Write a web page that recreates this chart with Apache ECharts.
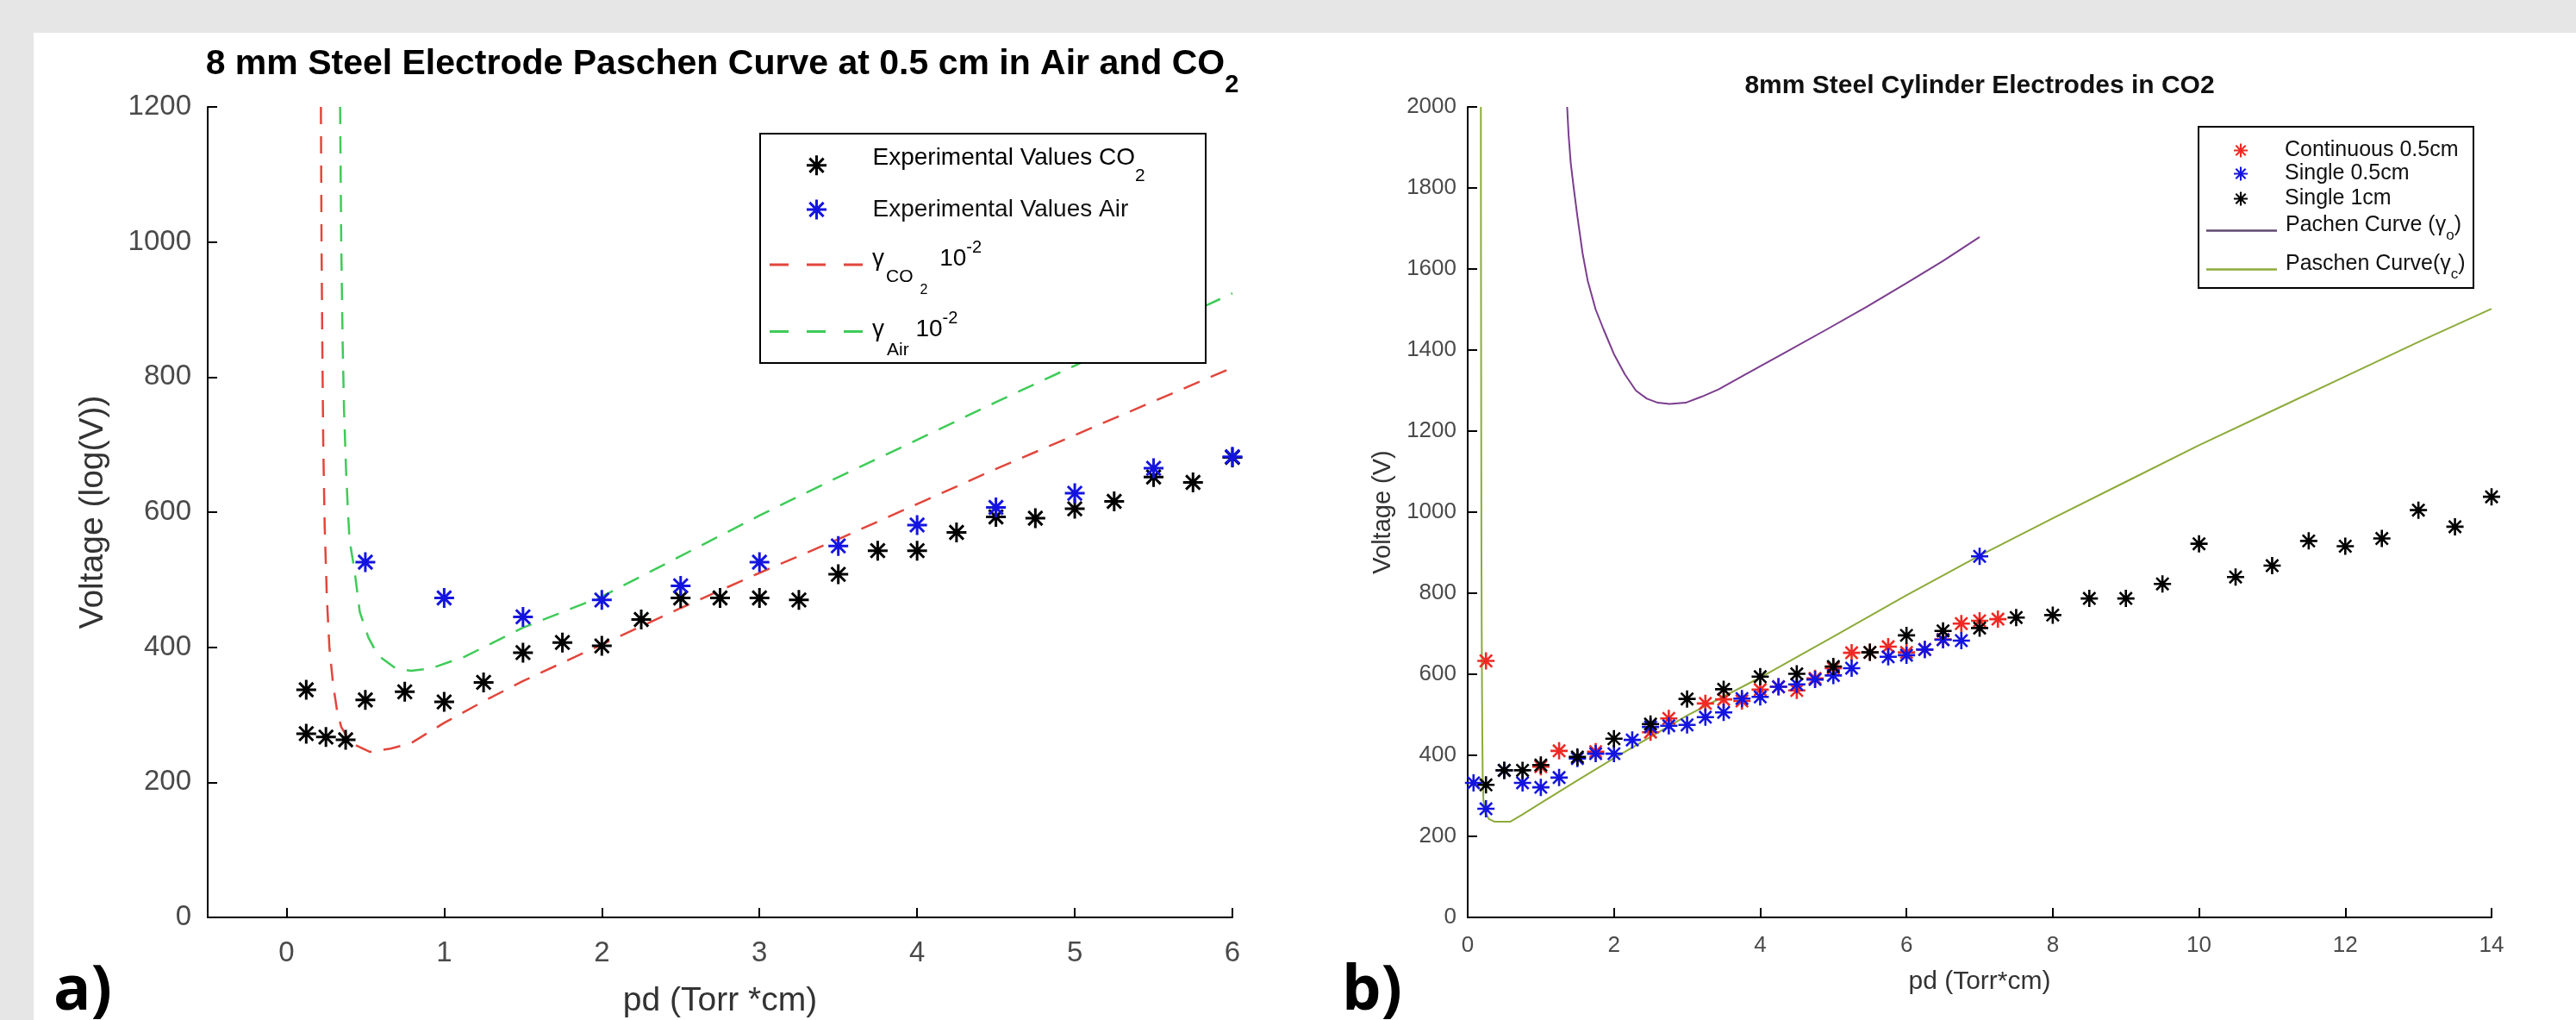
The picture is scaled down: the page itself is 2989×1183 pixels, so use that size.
<!DOCTYPE html>
<html>
<head>
<meta charset="utf-8">
<script src="https://cdn.jsdelivr.net/npm/echarts@6/dist/echarts.min.js"></script>
<style>
html,body{margin:0;padding:0;background:#e6e6e6;}
#c{width:2989px;height:1183px;}
</style>
</head>
<body>
<div id="c"></div>
<script>
// ---------- Panel a) : 8 mm steel electrode, 0.5 cm, Air and CO2 ----------
const co2X = [0.125, 0.125, 0.25, 0.375, 0.5, 0.75, 1.0, 1.25, 1.5, 1.75, 2.0, 2.25, 2.5, 2.75, 3.0, 3.25, 3.5, 3.75, 4.0, 4.25, 4.5, 4.75, 5.0, 5.25, 5.5, 5.75, 6.0];
const co2V = [337, 272, 267, 263, 322, 334, 319, 348, 392, 407, 402, 441, 473, 473, 473, 470, 508, 543, 543, 570, 593, 591, 605, 616, 652, 644, 681];
const airX = [0.5, 1.0, 1.5, 2.0, 2.5, 3.0, 3.5, 4.0, 4.5, 5.0, 5.5, 6.0];
const airV = [526, 473, 445, 470, 491, 526, 550, 581, 607, 628, 665, 682];
const gCO2X = [0.218, 0.222, 0.227, 0.233, 0.242, 0.256, 0.272, 0.295, 0.32, 0.347, 0.39, 0.43, 0.53, 0.66, 0.79, 1.0, 1.25, 1.5, 1.75, 2.0, 2.5, 3.0, 3.5, 4.0, 4.5, 5.0, 5.5, 6.0];
const gCO2V = [1200, 1000, 850, 700, 580, 473, 400, 346, 307, 282, 265, 256, 245, 250, 258, 288, 320, 350, 377, 404, 458, 510, 560, 612, 664, 714, 764, 814];
const gAirX = [0.34, 0.347, 0.356, 0.365, 0.378, 0.39, 0.40, 0.43, 0.465, 0.52, 0.58, 0.69, 0.79, 0.92, 1.13, 1.5, 2.0, 2.5, 3.0, 3.5, 4.0, 4.5, 5.0, 5.5, 6.0];
const gAirV = [1200, 1000, 850, 750, 660, 600, 558, 516, 452, 414, 388, 369, 365, 369, 386, 429, 475, 535, 595, 652, 707, 763, 817, 870, 924];
const xTicksA = [0, 1, 2, 3, 4, 5, 6];
const yTicksA = [0, 200, 400, 600, 800, 1000, 1200];

// ---------- Panel b) : 8 mm steel cylinder electrodes in CO2 ----------
const contX = [0.25, 1.0, 1.25, 1.75, 2.5, 2.75, 3.25, 3.5, 3.75, 4.0, 4.25, 4.5, 4.75, 5.0, 5.25, 5.5, 5.75, 6.0, 6.25, 6.5, 6.75, 7.0, 7.25];
const contV = [633, 372, 411, 409, 457, 491, 528, 538, 534, 562, 569, 560, 590, 615, 653, 654, 668, 654, 661, 686, 725, 732, 736];
const s05X = [0.08, 0.25, 0.5, 0.75, 1.0, 1.25, 1.5, 1.75, 2.0, 2.25, 2.5, 2.75, 3.0, 3.25, 3.5, 3.75, 4.0, 4.25, 4.5, 4.75, 5.0, 5.25, 5.75, 6.0, 6.25, 6.5, 6.75, 7.0];
const s05V = [332, 268, 363, 332, 321, 345, 392, 404, 404, 438, 470, 473, 475, 494, 506, 540, 544, 569, 575, 587, 597, 615, 643, 647, 661, 685, 683, 891];
const s1X = [0.25, 0.5, 0.75, 1.0, 1.5, 2.0, 2.5, 3.0, 3.5, 4.0, 4.5, 5.0, 5.5, 6.0, 6.5, 7.0, 7.5, 8.0, 8.5, 9.0, 9.5, 10.0, 10.5, 11.0, 11.5, 12.0, 12.5, 13.0, 13.5, 14.0];
const s1V = [327, 363, 363, 376, 396, 441, 477, 539, 563, 594, 601, 619, 654, 696, 707, 714, 740, 746, 787, 787, 823, 922, 840, 868, 929, 916, 935, 1005, 964, 1038];
const pachX = [1.36, 1.38, 1.41, 1.45, 1.5, 1.57, 1.64, 1.75, 1.86, 2.0, 2.15, 2.3, 2.45, 2.6, 2.76, 2.98, 3.2, 3.43, 3.8, 4.33, 4.9, 5.45, 6.0, 6.5, 7.0];
const pachV = [2000, 1930, 1860, 1800, 1730, 1640, 1572, 1500, 1450, 1390, 1340, 1300, 1280, 1270, 1267, 1270, 1285, 1303, 1340, 1393, 1450, 1506, 1565, 1620, 1679];
const paschX = [0.18, 0.182, 0.185, 0.188, 0.192, 0.196, 0.2, 0.205, 0.215, 0.24, 0.29, 0.37, 0.58, 0.75, 1.0, 1.5, 2.0, 3.0, 4.0, 5.0, 6.0, 7.0, 8.0, 9.0, 10.0, 11.0, 12.0, 13.0, 14.0];
const paschV = [2000, 1600, 1200, 900, 700, 560, 450, 350, 290, 258, 243, 236, 236, 254, 282, 338, 393, 498, 592, 693, 795, 893, 985, 1075, 1165, 1250, 1335, 1420, 1502];
const xTicksB = [0, 2, 4, 6, 8, 10, 12, 14];
const yTicksB = [0, 200, 400, 600, 800, 1000, 1200, 1400, 1600, 1800, 2000];

// ---------- styling ----------
const FONT = '"Liberation Sans", Arial, Helvetica, sans-serif';
const TICK = '#4a4a4a';
const STAR = 'path://M-0.13,-1L0.13,-1L0.13,1L-0.13,1Z M-1,-0.13L1,-0.13L1,0.13L-1,0.13Z M0.6152,-0.799L0.799,-0.6152L-0.6152,0.799L-0.799,0.6152Z M-0.799,-0.6152L-0.6152,-0.799L0.799,0.6152L0.6152,0.799Z';
const DASH_ICON = 'path://M0,0L22,0L22,3L0,3Z M43,0L65,0L65,3L43,3Z M86,0L108,0L108,3L86,3Z';
const LINE_ICON = 'path://M0,0L82,0L82,2.5L0,2.5Z';
const C_RED = '#ee2a24', C_BLUE = '#1414e0', C_BLK = '#000000';
const C_GRED = '#e2463c', C_GGRN = '#3fcb58', C_PUR = '#7b3d8e', C_OLV = '#8dab3a';

function pairs(xs, ys) { return xs.map((x, i) => [x, ys[i]]); }
function tok(size, pad, extra) {
  return Object.assign({ fontSize: size, fontFamily: FONT, color: '#000', verticalAlign: 'top', padding: pad }, extra || {});
}

function axisCommon(grid, min, max, ticks, fs, margin, name, nameFs, gap) {
  return {
    gridIndex: grid, type: 'value', min: min, max: max,
    axisLine: { show: true, onZero: false, lineStyle: { color: '#000', width: 2 } },
    axisTick: { show: true, inside: true, length: 11, lineStyle: { color: '#000', width: 2 }, customValues: ticks },
    axisLabel: { show: true, customValues: ticks, margin: margin, fontSize: fs, color: TICK, fontFamily: FONT,
                 formatter: function (v) { return String(v); } },
    splitLine: { show: false },
    name: name, nameLocation: 'middle', nameGap: gap,
    nameTextStyle: { fontSize: nameFs, color: '#333', fontFamily: FONT }
  };
}

function legendItem(left, top, w, h, name, icon, color, formatter, rich, fs, padL) {
  return {
    left: left, top: top, padding: 0, itemWidth: w, itemHeight: h, selectedMode: false,
    orient: 'vertical', symbolKeepAspect: true,
    data: [{ name: name, icon: icon, itemStyle: { color: color, borderWidth: 0 } }],
    formatter: formatter,
    textStyle: { fontSize: fs, fontFamily: FONT, color: '#111', padding: [0, 0, 0, padL], rich: rich || {} }
  };
}

const option = {
  backgroundColor: '#e6e6e6',
  animation: false,
  title: [
    {
      text: '{m|8 mm Steel Electrode Paschen Curve at 0.5 cm in Air and CO}{s|2}',
      left: 838, top: 54, padding: 0, textAlign: 'center', textVerticalAlign: 'top',
      textStyle: { rich: {
        m: tok(41, [0, 0, 0, 0], { fontWeight: 'bold' }),
        s: tok(29, [30, 0, 0, 0], { fontWeight: 'bold' })
      } }
    },
    {
      text: '8mm Steel Cylinder Electrodes in CO2',
      left: 2297, top: 85, padding: 0, textAlign: 'center', textVerticalAlign: 'top',
      textStyle: { fontSize: 30, fontWeight: 'bold', fontFamily: FONT, color: '#111' }
    }
  ],
  grid: [
    { left: 241, top: 124, width: 1189, height: 940, outerBoundsMode: 'none' },
    { left: 1703, top: 124, width: 1188, height: 940, outerBoundsMode: 'none' }
  ],
  xAxis: [
    axisCommon(0, -0.5, 6, xTicksA, 33, 25, 'pd (Torr *cm)', 39, 78),
    axisCommon(1, 0, 14, xTicksB, 26, 20, 'pd (Torr*cm)', 30, 60)
  ],
  yAxis: [
    axisCommon(0, 0, 1200, yTicksA, 33, 19, 'Voltage (log(V))', 39, 113),
    axisCommon(1, 0, 2000, yTicksB, 26, 13, 'Voltage (V)', 29, 84)
  ],
  legend: [
    legendItem(936, 169, 108, 23, 'Experimental Values CO2', STAR, C_BLK,
      '{m|Experimental Values CO}{s|2}',
      { m: tok(28, [0, 0, 0, 0]), s: tok(21, [24.5, 0, 0, 0]) }, 28, 6),
    legendItem(936, 229, 108, 23, 'Experimental Values Air', STAR, C_BLUE,
      'Experimental Values Air', null, 28, 6),
    legendItem(893, 277, 108, 23, 'gammaCO2', DASH_ICON, C_GRED,
      '{g|γ}{c|CO}{c2|2}{m| 10}{p|-2}',
      { g: tok(28, [17, 0, 0, 0]), c: tok(21, [42, 0, 0, 2]), c2: tok(16, [60, 0, 0, 8]),
        m: tok(28, [17, 0, 0, 6]), p: tok(20, [8, 0, 0, 0]) }, 28, 6),
    legendItem(893, 359, 108, 23, 'gammaAir', DASH_ICON, C_GGRN,
      '{g|γ}{c|Air}{m| 10}{p|-2}',
      { g: tok(28, [16, 0, 0, 0]), c: tok(21, [44, 0, 0, 3]),
        m: tok(28, [16, 0, 0, 0]), p: tok(20, [7, 0, 0, 0]) }, 28, 6),

    legendItem(2592, 162, 82, 16, 'Continuous 0.5cm', STAR, C_RED, 'Continuous 0.5cm', null, 25, 5),
    legendItem(2592, 189, 82, 16, 'Single 0.5cm', STAR, C_BLUE, 'Single 0.5cm', null, 25, 5),
    legendItem(2592, 218, 82, 16, 'Single 1cm', STAR, C_BLK, 'Single 1cm', null, 25, 5),
    legendItem(2560, 249, 82, 16, 'Pachen Curve (γo)', LINE_ICON, '#5e4a70',
      '{m|Pachen Curve (}{g|γ}{s|o}{m|)}',
      { m: tok(25, [0, 0, 0, 0], { color: '#111' }), g: tok(25, [0, 0, 0, 0], { color: '#111' }),
        s: tok(17, [16, 0, 4, 0], { color: '#111' }) }, 25, 5),
    legendItem(2560, 294, 82, 16, 'Paschen Curve(γc)', LINE_ICON, C_OLV,
      '{m|Paschen Curve(}{g|γ}{s|c}{m|)}',
      { m: tok(25, [0, 0, 0, 0], { color: '#111' }), g: tok(25, [0, 0, 0, 0], { color: '#111' }),
        s: tok(17, [16, 0, 4, 0], { color: '#111' }) }, 25, 5)
  ],
  series: [
    { type: 'scatter', name: 'Experimental Values CO2', xAxisIndex: 0, yAxisIndex: 0,
      data: pairs(co2X, co2V), symbol: STAR, symbolSize: 23, symbolKeepAspect: true,
      itemStyle: { color: C_BLK, opacity: 1 }, z: 2 },
    { type: 'scatter', name: 'Experimental Values Air', xAxisIndex: 0, yAxisIndex: 0,
      data: pairs(airX, airV), symbol: STAR, symbolSize: 23, symbolKeepAspect: true,
      itemStyle: { color: C_BLUE, opacity: 1 }, z: 2 },
    { type: 'line', name: 'gammaCO2', xAxisIndex: 0, yAxisIndex: 0,
      data: pairs(gCO2X, gCO2V), symbol: 'none', showSymbol: false,
      lineStyle: { color: C_GRED, width: 2.5, type: [20, 14] }, itemStyle: { color: C_GRED }, z: 2 },
    { type: 'line', name: 'gammaAir', xAxisIndex: 0, yAxisIndex: 0,
      data: pairs(gAirX, gAirV), symbol: 'none', showSymbol: false,
      lineStyle: { color: C_GGRN, width: 2.5, type: [20, 14] }, itemStyle: { color: C_GGRN }, z: 2 },

    { type: 'scatter', name: 'Continuous 0.5cm', xAxisIndex: 1, yAxisIndex: 1,
      data: pairs(contX, contV), symbol: STAR, symbolSize: 20, symbolKeepAspect: true,
      itemStyle: { color: C_RED, opacity: 1 }, z: 2 },
    { type: 'scatter', name: 'Single 0.5cm', xAxisIndex: 1, yAxisIndex: 1,
      data: pairs(s05X, s05V), symbol: STAR, symbolSize: 20, symbolKeepAspect: true,
      itemStyle: { color: C_BLUE, opacity: 1 }, z: 2 },
    { type: 'scatter', name: 'Single 1cm', xAxisIndex: 1, yAxisIndex: 1,
      data: pairs(s1X, s1V), symbol: STAR, symbolSize: 20, symbolKeepAspect: true,
      itemStyle: { color: C_BLK, opacity: 1 }, z: 2 },
    { type: 'line', name: 'Pachen Curve (γo)', xAxisIndex: 1, yAxisIndex: 1,
      data: pairs(pachX, pachV), symbol: 'none', showSymbol: false,
      lineStyle: { color: C_PUR, width: 2 }, itemStyle: { color: C_PUR }, z: 2 },
    { type: 'line', name: 'Paschen Curve(γc)', xAxisIndex: 1, yAxisIndex: 1,
      data: pairs(paschX, paschV), symbol: 'none', showSymbol: false,
      lineStyle: { color: C_OLV, width: 2 }, itemStyle: { color: C_OLV }, z: 2 }
  ],
  graphic: [
    { type: 'rect', silent: true, z: -10, shape: { x: 39, y: 38, width: 2950, height: 1145 }, style: { fill: '#ffffff' } },
    { type: 'rect', silent: true, z: 3, shape: { x: 882, y: 155, width: 517, height: 266 }, style: { fill: '#ffffff', stroke: '#000', lineWidth: 2 } },
    { type: 'rect', silent: true, z: 3, shape: { x: 2551, y: 147, width: 319, height: 187 }, style: { fill: '#ffffff', stroke: '#000', lineWidth: 2 } },
    { type: 'text', silent: true, z: 5, x: 62, y: 1150, style: { text: 'a)', font: 'bold 72px "Open Sans", "Noto Sans", sans-serif', fill: '#000', verticalAlign: 'middle' } },
    { type: 'text', silent: true, z: 5, x: 1557, y: 1150, style: { text: 'b)', font: 'bold 72px "Open Sans", "Noto Sans", sans-serif', fill: '#000', verticalAlign: 'middle' } }
  ]
};

const chart = echarts.init(document.getElementById('c'), null, { renderer: 'canvas', width: 2989, height: 1183 });
chart.setOption(option);
</script>
</body>
</html>
